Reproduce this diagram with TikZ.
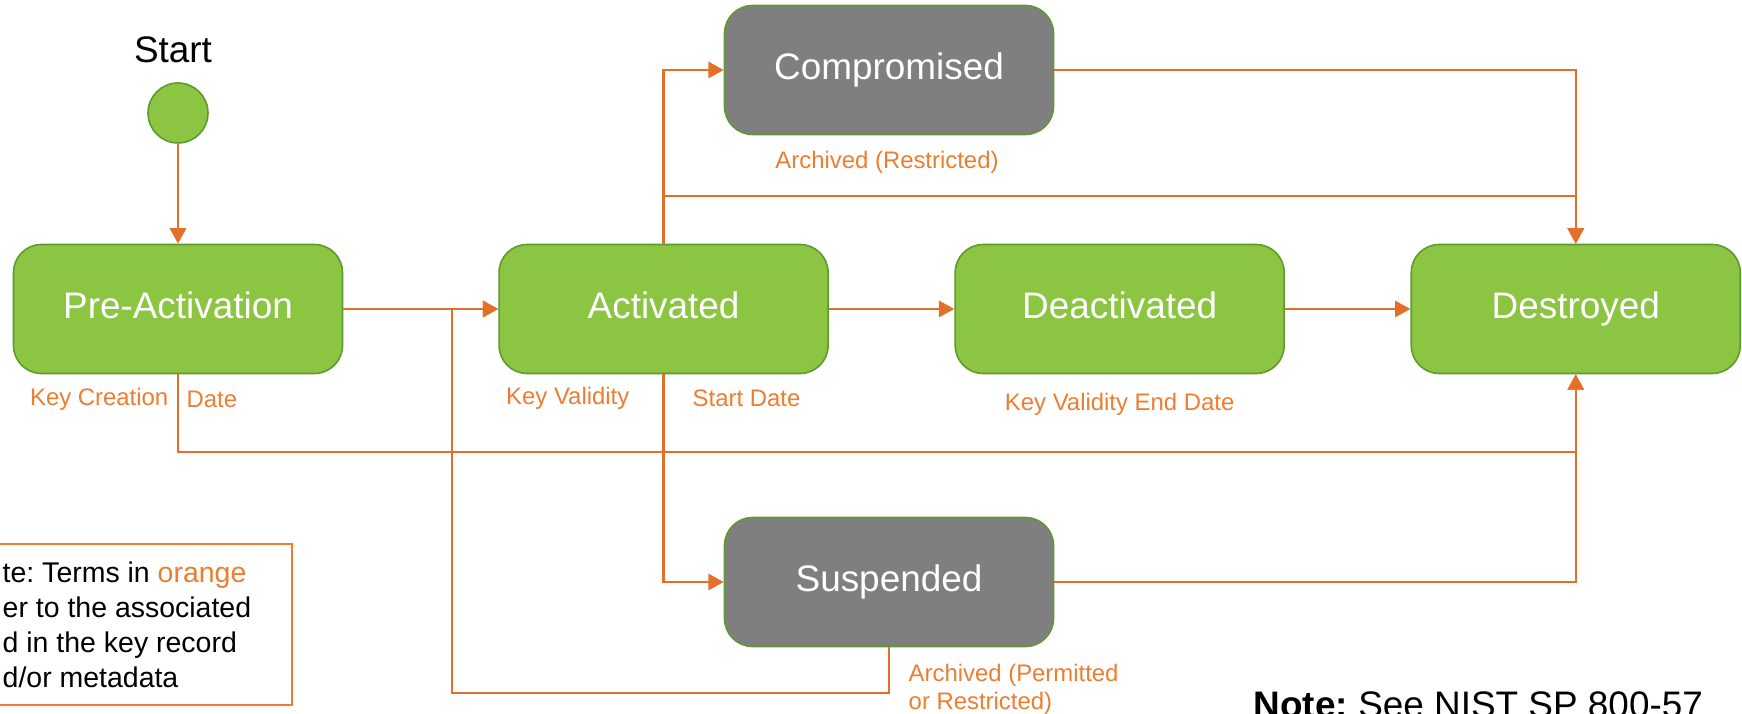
\documentclass[tikz,border=0pt]{standalone}
\usepackage{fontspec}
\setmainfont{Liberation Sans}
\usepackage{tikz}
\usetikzlibrary{arrows.meta, calc, positioning}
\frenchspacing

\definecolor{keygreen}{HTML}{8BC541}
\definecolor{keyedge}{HTML}{5E9B2E}
\definecolor{keygray}{HTML}{7F7F7F}
\definecolor{lineorange}{HTML}{E46F28}
\definecolor{textorange}{HTML}{ED7D31}

\begin{document}
\begin{tikzpicture}[auto, node distance=1.255cm, >={Triangle[length=4.4pt,width=4.6pt]},
    state/.style={draw=keyedge, line width=0.45pt, fill=keygreen, rounded corners=0.28cm,
        minimum width=3.29cm, minimum height=1.29cm, text height=0.74em, text depth=0.2em,
        text=white, font=\fontsize{10.5}{12.6}\selectfont},
    holdstate/.style={state, fill=keygray},
    flow/.style={->, draw=lineorange, line width=0.7pt},
    datelabel/.style={text=textorange, font=\fontsize{6.8}{8.2}\selectfont, inner sep=0pt}]
    \useasboundingbox (0,0) rectangle (17.42,-7.14);

    % Start
    \node [circle, draw=keyedge, line width=0.45pt, fill=keygreen, minimum size=0.6cm, inner sep=0pt] (start) at (1.78,-1.13) {};
    \node [font=\fontsize{10.5}{12.6}\selectfont] (start_lbl) at (1.73,-0.50) {Start};

    % Main row of states
    \node [state] (pre_act) at (1.78,-3.09) {Pre-Activation};
    \node [state, right=1.55cm of pre_act] (act) {Activated};
    \node [state, right=of act] (deact) {Deactivated};
    \node [state, right=of deact] (destroyed) {Destroyed};

    % Compromised and Suspended
    \node [holdstate] (comp) at (8.89,-0.70) {Compromised};
    \node [holdstate] (susp) at (8.89,-5.82) {Suspended};

    % Date labels
    \node [datelabel, anchor=east] (kc_lbl) at (1.69,-3.99) {Key Creation};
    \node [datelabel, anchor=west] (kcd_lbl) at (1.86,-3.99) {Date};
    \node [datelabel, anchor=east] (kv_lbl) at (6.30,-3.98) {Key Validity};
    \node [datelabel, anchor=west] (kvs_lbl) at (6.92,-3.98) {Start Date};
    \node [datelabel, below=0.18cm of deact] (kve_lbl) {Key Validity End Date};
    \node [datelabel] (arc_lbl) at (8.87,-1.62) {Archived (Restricted)};
    \node [datelabel, anchor=north west, align=left] (arcp_lbl) at (9.08,-6.63) {Archived (Permitted\\or Restricted)};

    % Bus points
    \coordinate (top_y) at (0,-1.96);
    \coordinate (low_y) at (0,-4.52);
    \coordinate (merge) at (4.52,-3.09);
    \coordinate (back_bus) at (4.52,-6.93);
    \coordinate (top_bus) at (destroyed.north |- top_y);
    \coordinate (low_bus) at (destroyed.south |- low_y);

    % Connections
    \draw [flow] (start) -- (pre_act);
    \draw [flow] (pre_act) -- (act);
    \draw [flow] (act) -- (deact);
    \draw [flow] (deact) -- (destroyed);
    \draw [flow] (act.north) |- (comp.west);
    \draw [flow] (act.north) |- (top_bus) -- (destroyed.north);
    \draw [flow] (comp.east) -| (destroyed.north);
    \draw [flow] (act.south) |- (susp.west);
    \draw [flow] (pre_act.south) |- (low_bus) -- (destroyed.south);
    \draw [flow] (susp.east) -| (destroyed.south);
    \draw [flow] (susp.south) |- (back_bus) -- (merge) -- (act.west);

    % Notes
    \node [draw=textorange, line width=0.45pt, minimum width=3.6cm, minimum height=1.61cm, anchor=north east] (note_box) at (2.93,-5.43) {};
    \node [anchor=north west, align=left, inner sep=0pt, font=\fontsize{8.1}{10}\selectfont] (note_txt) at (0.02,-5.61)
        {te: Terms in \textcolor{textorange}{orange}\\er to the associated\\d in the key record\\d/or metadata};
    \node [anchor=base west, inner sep=0pt, font=\fontsize{10.5}{12.6}\selectfont] (nist_note) at (12.53,-7.17) {\textbf{Note:} See NIST SP 800-57};

\end{tikzpicture}
\end{document}
